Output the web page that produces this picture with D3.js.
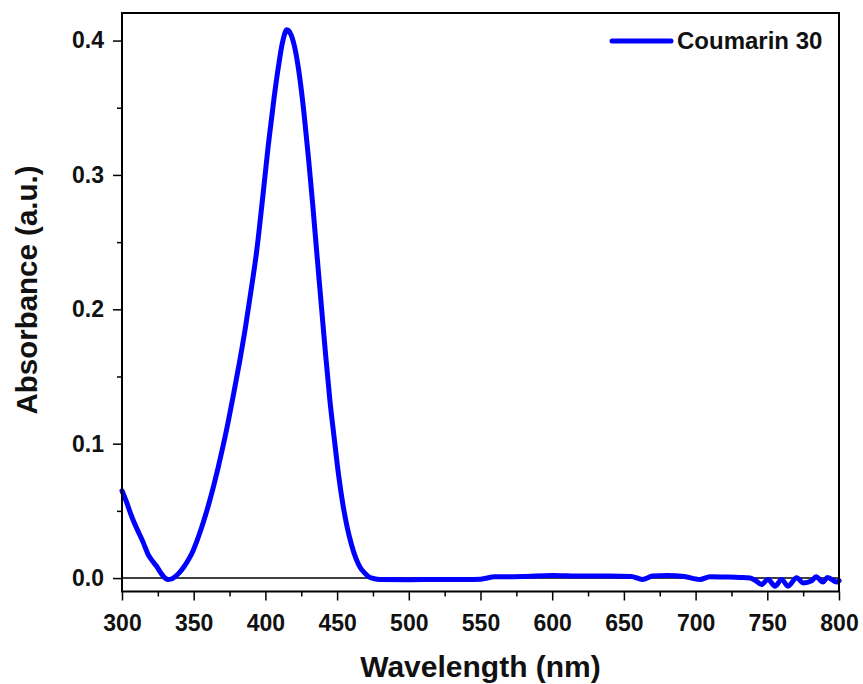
<!DOCTYPE html>
<html>
<head>
<meta charset="utf-8">
<script src="https://cdn.jsdelivr.net/npm/d3@7"></script>
<style>
    body { margin: 0; background: white; }
    text { font-family: "Liberation Sans", Arial, sans-serif; font-weight: bold; fill: #111; }
</style>
</head>
<body>
<div class="chart"></div>
<script>

// Coumarin 30 absorbance
var wavelengths = [300, 303, 306, 309, 312, 315, 318, 321, 324, 327, 330, 332, 334, 337, 340, 343, 346, 349, 352, 355,
    358, 361, 364, 367, 370, 374, 378, 382, 386, 390, 394, 398, 402, 406, 409, 412, 415, 418, 421, 424,
    427, 430, 433, 436, 439, 442, 445, 448, 451, 454, 457, 460, 463, 466, 469, 472, 476, 480, 500, 520,
    540, 550, 560, 580, 600, 620, 640, 655, 663, 670, 680, 692, 703, 710, 720, 731, 738, 742, 746, 750.5,
    755.4, 760, 764.4, 770.5, 775, 781, 784, 788.8, 792, 798.4, 800];
var absorbance = [0.065, 0.057, 0.048, 0.040, 0.033, 0.026, 0.018, 0.013, 0.009, 0.004, 0.000, -0.001, -0.0008, 0.001, 0.004, 0.008, 0.013, 0.019, 0.027, 0.036,
    0.046, 0.057, 0.069, 0.082, 0.096, 0.116, 0.138, 0.161, 0.186, 0.214, 0.244, 0.282, 0.322, 0.357, 0.380, 0.399, 0.408, 0.404, 0.392, 0.372,
    0.345, 0.313, 0.278, 0.240, 0.203, 0.166, 0.132, 0.104, 0.077, 0.055, 0.038, 0.025, 0.015, 0.008, 0.004, 0.001, -0.0005, -0.001, -0.0012, -0.001,
    -0.0011, -0.0008, 0.0009, 0.0012, 0.002, 0.0015, 0.0015, 0.0012, -0.001, 0.0015, 0.002, 0.0012, -0.001, 0.001, 0.0008, 0.0005, 0.0, -0.002, -0.0048, -0.001,
    -0.006, -0.001, -0.006, 0.0003, -0.0036, -0.002, 0.001, -0.003, 0.0005, -0.003, -0.002];

var seriesName = "Coumarin 30";
var xTicks = [300, 350, 400, 450, 500, 550, 600, 650, 700, 750, 800];
var yTicks = [0.0, 0.1, 0.2, 0.3, 0.4];

var svgWidth = 863, svgHeight = 684;
var margin = {top: 13, right: 24, bottom: 92.5, left: 122};
var width = svgWidth - margin.left - margin.right;
var height = svgHeight - margin.top - margin.bottom;

var data = wavelengths.map((w, i) => ({x: w, y: absorbance[i]}));

var svg = d3.select(".chart").append("svg")
    .attr("width", svgWidth)
    .attr("height", svgHeight);

var g = svg.append("g")
    .attr("transform", "translate(" + margin.left + "," + margin.top + ")");

var xScale = d3.scaleLinear()
    .domain([300, 800])
    .range([0, width]);

var yScale = d3.scaleLinear()
    .domain([-0.0100, 0.4205])
    .range([height, 0]);

// zero line
g.append("line")
    .attr("x1", 0)
    .attr("x2", width)
    .attr("y1", yScale(0))
    .attr("y2", yScale(0))
    .attr("stroke", "black")
    .attr("stroke-width", 1.5);

// the spectrum
var line = d3.line()
    .x(d => xScale(d.x))
    .y(d => yScale(d.y))
    .curve(d3.curveMonotoneX);

g.append("path")
    .datum(data)
    .attr("d", line)
    .attr("fill", "none")
    .attr("stroke", "#0000ff")
    .attr("stroke-width", 5)
    .attr("stroke-linejoin", "round")
    .attr("stroke-linecap", "round");

// axes
g.append("g")
    .attr("transform", "translate(0," + height + ")")
    .call(d3.axisBottom(xScale).tickValues(d3.range(325, 800, 50)).tickSize(5).tickFormat(""));

g.append("g")
    .attr("transform", "translate(0," + height + ")")
    .call(d3.axisBottom(xScale).tickValues(xTicks).tickSize(9).tickPadding(14).tickFormat(d3.format("d")))
    .call(a => a.selectAll("text").attr("font-size", 23).attr("fill", "#111"));

g.append("g")
    .call(d3.axisLeft(yScale).tickValues([0.05, 0.15, 0.25, 0.35]).tickSize(5).tickFormat(""));

g.append("g")
    .call(d3.axisLeft(yScale).tickValues(yTicks).tickSize(9).tickPadding(9).tickFormat(d3.format(".1f")))
    .call(a => a.selectAll("text").attr("font-size", 23).attr("fill", "#111"));

svg.selectAll(".domain").remove();
svg.selectAll(".tick line").attr("stroke", "black").attr("stroke-width", 1.5);

// frame
g.append("rect")
    .attr("x", 0)
    .attr("y", 0)
    .attr("width", width)
    .attr("height", height)
    .attr("fill", "none")
    .attr("stroke", "black")
    .attr("stroke-width", 2);

// axis titles
svg.append("text")
    .attr("x", margin.left + width / 2)
    .attr("y", 677)
    .attr("text-anchor", "middle")
    .attr("font-size", 30)
    .text("Wavelength (nm)");

svg.append("text")
    .attr("transform", "translate(37,290) rotate(-90)")
    .attr("text-anchor", "middle")
    .attr("font-size", 29.5)
    .text("Absorbance (a.u.)");

// legend
g.append("line")
    .attr("x1", 612 - margin.left)
    .attr("x2", 671 - margin.left)
    .attr("y1", 41 - margin.top)
    .attr("y2", 41 - margin.top)
    .attr("stroke", "#0000ff")
    .attr("stroke-width", 5)
    .attr("stroke-linecap", "round");

g.append("text")
    .attr("x", 677 - margin.left)
    .attr("y", 49 - margin.top)
    .attr("font-size", 24)
    .text(seriesName);

</script>
</body>
</html>
